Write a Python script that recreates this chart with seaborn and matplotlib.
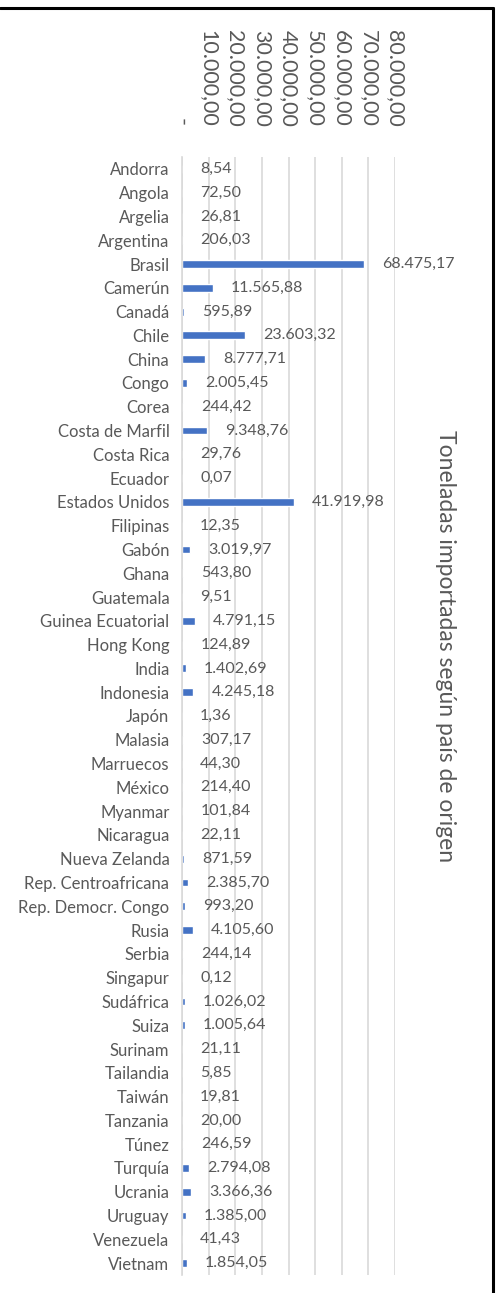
import numpy as np
import pandas as pd
import matplotlib
matplotlib.use("Agg")
import matplotlib.pyplot as plt
from matplotlib.lines import Line2D
from matplotlib.ticker import FuncFormatter
import seaborn as sns

# 数据
paises = ["Andorra", "Angola", "Argelia", "Argentina", "Brasil", "Camerún", "Canadá",
          "Chile", "China", "Congo", "Corea", "Costa de Marfil", "Costa Rica", "Ecuador",
          "Estados Unidos", "Filipinas", "Gabón", "Ghana", "Guatemala", "Guinea Ecuatorial",
          "Hong Kong", "India", "Indonesia", "Japón", "Malasia", "Marruecos", "México",
          "Myanmar", "Nicaragua", "Nueva Zelanda", "Rep. Centroafricana", "Rep. Democr. Congo",
          "Rusia", "Serbia", "Singapur", "Sudáfrica", "Suiza", "Surinam", "Tailandia",
          "Taiwán", "Tanzania", "Túnez", "Turquía", "Ucrania", "Uruguay", "Venezuela", "Vietnam"]
toneladas = [8.54, 72.50, 26.81, 206.03, 68475.17, 11565.88, 595.89,
             23603.32, 8777.71, 2005.45, 244.42, 9348.76, 29.76, 0.07,
             41919.98, 12.35, 3019.97, 543.80, 9.51, 4791.15,
             124.89, 1402.69, 4245.18, 1.36, 307.17, 44.30, 214.40,
             101.84, 22.11, 871.59, 2385.70, 993.20,
             4105.60, 244.14, 0.12, 1026.02, 1005.64, 21.11, 5.85,
             19.81, 20.00, 246.59, 2794.08, 3366.36, 1385.00, 41.43, 1854.05]
ticks_x = [0, 10000, 20000, 30000, 40000, 50000, 60000, 70000, 80000]
titulo = "Toneladas importadas según país de origen"

df = pd.DataFrame({"pais": paises, "ton": toneladas})

gris = "#595959"
sns.set_theme(style="white")
plt.rcParams["font.family"] = ["Lato", "DejaVu Sans"]


def fmt_es(v):
    s = f"{v:,.2f}"
    return s.replace(",", "X").replace(".", ",").replace("X", ".")


fig = plt.figure(figsize=(5, 12.93), dpi=100)
ax = fig.add_axes([0.364, 0.0139, 0.426, 0.8647])

sns.barplot(data=df, x="ton", y="pais", orient="h", color="#4472C4",
            width=0.33, saturation=1, ax=ax)

ax.set_xlim(0, 80000)
ax.set_xticks(ticks_x)
ax.xaxis.tick_top()
ax.xaxis.set_major_formatter(FuncFormatter(lambda v, p: "-" if v == 0 else fmt_es(v)))
ax.tick_params(axis="x", length=0, pad=22, labelsize=15.5, labelcolor=gris)
for t in ax.get_xticklabels():
    t.set_rotation(270)
    t.set_va("bottom")
    t.set_ha("center")
ax.tick_params(axis="y", length=0, pad=9, labelsize=12, labelcolor=gris)
ax.set_xlabel("")
ax.set_ylabel("")

ax.grid(axis="x", color="#D9D9D9", linewidth=1.2)
ax.set_axisbelow(True)
for s in ["top", "right", "bottom"]:
    ax.spines[s].set_visible(False)
ax.spines["left"].set_color("#D9D9D9")
ax.spines["left"].set_linewidth(1.2)

# etiquetas de datos
for i, v in enumerate(toneladas):
    ax.annotate(fmt_es(v), xy=(v, i), xytext=(13, 0), textcoords="offset points",
                va="center", ha="left", fontsize=11.5, color=gris)

# título a la derecha
fig.text(0.89, 0.5, titulo, rotation=270, ha="center", va="center",
         fontsize=16.5, color=gris)

# marco
fig.add_artist(Line2D([0, 0.986], [0.9935, 0.9935], color="black", linewidth=2.2,
                      transform=fig.transFigure))
fig.add_artist(Line2D([0.986, 0.986], [0.9935, 0], color="black", linewidth=2.2,
                      transform=fig.transFigure))

fig.savefig("out.png", dpi=100)
